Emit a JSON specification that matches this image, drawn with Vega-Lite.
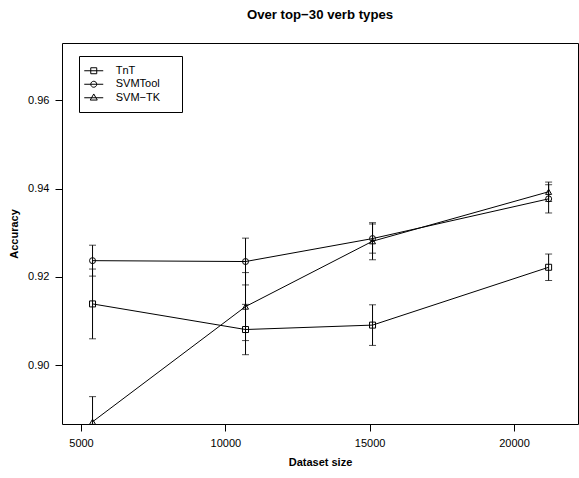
{
  "$schema": "https://vega.github.io/schema/vega-lite/v6.json",
  "width": 516,
  "height": 381,
  "autosize": {"type": "none"},
  "padding": {"left": 62, "top": 43, "right": 1, "bottom": 54},
  "background": "white",
  "config": {
    "font": "Liberation Sans",
    "view": {"stroke": "black", "strokeWidth": 1},
    "axis": {
      "grid": false,
      "domain": false,
      "tickSize": 7,
      "tickColor": "black",
      "tickWidth": 1,
      "labelFont": "Liberation Sans",
      "labelFontSize": 11,
      "labelColor": "black",
      "labelPadding": 6,
      "titleFont": "Liberation Sans",
      "titleFontSize": 11,
      "titleFontWeight": "bold",
      "titleColor": "black"
    }
  },
  "title": {
    "text": "Over top−30 verb types",
    "font": "Liberation Sans",
    "fontSize": 13.2,
    "fontWeight": "bold",
    "color": "black",
    "anchor": "middle",
    "frame": "group",
    "baseline": "alphabetic",
    "offset": 11
  },
  "data": {
    "values": [
      {"method": "TnT", "size": 5400, "acc": 0.9139, "lo": 0.9060, "hi": 0.9218},
      {"method": "TnT", "size": 10700, "acc": 0.9081, "lo": 0.9024, "hi": 0.9138},
      {"method": "TnT", "size": 15100, "acc": 0.9091, "lo": 0.9045, "hi": 0.9137},
      {"method": "TnT", "size": 21200, "acc": 0.9222, "lo": 0.9192, "hi": 0.9252},
      {"method": "SVMTool", "size": 5400, "acc": 0.9237, "lo": 0.9202, "hi": 0.9272},
      {"method": "SVMTool", "size": 10700, "acc": 0.9235, "lo": 0.9182, "hi": 0.9288},
      {"method": "SVMTool", "size": 15100, "acc": 0.9287, "lo": 0.9254, "hi": 0.9320},
      {"method": "SVMTool", "size": 21200, "acc": 0.9377, "lo": 0.9345, "hi": 0.9409},
      {"method": "SVM−TK", "size": 5400, "acc": 0.8872, "lo": 0.8815, "hi": 0.8929},
      {"method": "SVM−TK", "size": 10700, "acc": 0.9133, "lo": 0.9056, "hi": 0.9210},
      {"method": "SVM−TK", "size": 15100, "acc": 0.9281, "lo": 0.9239, "hi": 0.9323},
      {"method": "SVM−TK", "size": 21200, "acc": 0.9393, "lo": 0.9371, "hi": 0.9415}
    ]
  },
  "encoding": {
    "x": {
      "field": "size",
      "type": "quantitative",
      "scale": {"domain": [4342, 22218], "nice": false, "zero": false},
      "axis": {"values": [5000, 10000, 15000, 20000], "format": "d", "title": "Dataset size", "titlePadding": 8}
    }
  },
  "layer": [
    {
      "mark": {"type": "line", "color": "black", "strokeWidth": 1, "clip": true},
      "encoding": {
        "y": {
          "field": "acc",
          "type": "quantitative",
          "scale": {"domain": [0.8867, 0.9730], "nice": false, "zero": false},
          "axis": {"values": [0.90, 0.92, 0.94, 0.96], "format": ".2f", "title": "Accuracy", "titlePadding": 8}
        },
        "detail": {"field": "method"}
      }
    },
    {
      "mark": {"type": "rule", "color": "black", "strokeWidth": 1, "clip": true},
      "encoding": {
        "y": {"field": "lo", "type": "quantitative"},
        "y2": {"field": "hi"}
      }
    },
    {
      "mark": {"type": "tick", "orient": "horizontal", "size": 7, "thickness": 1, "color": "black", "clip": true},
      "encoding": {"y": {"field": "lo", "type": "quantitative"}}
    },
    {
      "mark": {"type": "tick", "orient": "horizontal", "size": 7, "thickness": 1, "color": "black", "clip": true},
      "encoding": {"y": {"field": "hi", "type": "quantitative"}}
    },
    {
      "mark": {"type": "point", "filled": false, "color": "black", "strokeWidth": 1, "size": 36, "opacity": 1, "clip": true},
      "encoding": {
        "y": {"field": "acc", "type": "quantitative"},
        "shape": {
          "field": "method",
          "type": "nominal",
          "scale": {"domain": ["TnT", "SVMTool", "SVM−TK"], "range": ["square", "circle", "triangle-up"]},
          "legend": null
        }
      }
    },
    {
      "mark": {"type": "point", "filled": false, "color": "black", "strokeWidth": 1, "size": 121, "opacity": 0, "clip": true},
      "encoding": {
        "y": {"field": "acc", "type": "quantitative"},
        "shape": {
          "field": "method",
          "type": "nominal",
          "scale": {
            "domain": ["TnT", "SVMTool", "SVM−TK"],
            "range": [
              "M-1.727,0H1.727M-0.545,-0.545H0.545V0.545H-0.545Z",
              "M-1.727,0H1.727M0.545,0A0.545,0.545,0,1,1,-0.545,0A0.545,0.545,0,1,1,0.545,0Z",
              "M-1.727,0H1.727M0,-0.69L0.64,0.42H-0.64Z"
            ]
          },
          "legend": {
            "title": null,
            "orient": "none",
            "legendX": 17,
            "legendY": 13,
            "strokeColor": "black",
            "fillColor": "white",
            "padding": 8.75,
            "rowPadding": 2.5,
            "symbolSize": 121,
            "symbolOpacity": 1,
            "symbolStrokeColor": "black",
            "symbolFillColor": "transparent",
            "symbolStrokeWidth": 1,
            "labelFont": "Liberation Sans",
            "labelFontSize": 11,
            "labelColor": "black",
            "labelOffset": 16,
            "labelExpr": "datum.label + '\u00a0\u00a0\u00a0\u00a0\u200b'"
          }
        }
      }
    }
  ],
  "resolve": {"scale": {"shape": "independent"}, "legend": {"shape": "independent"}}
}
